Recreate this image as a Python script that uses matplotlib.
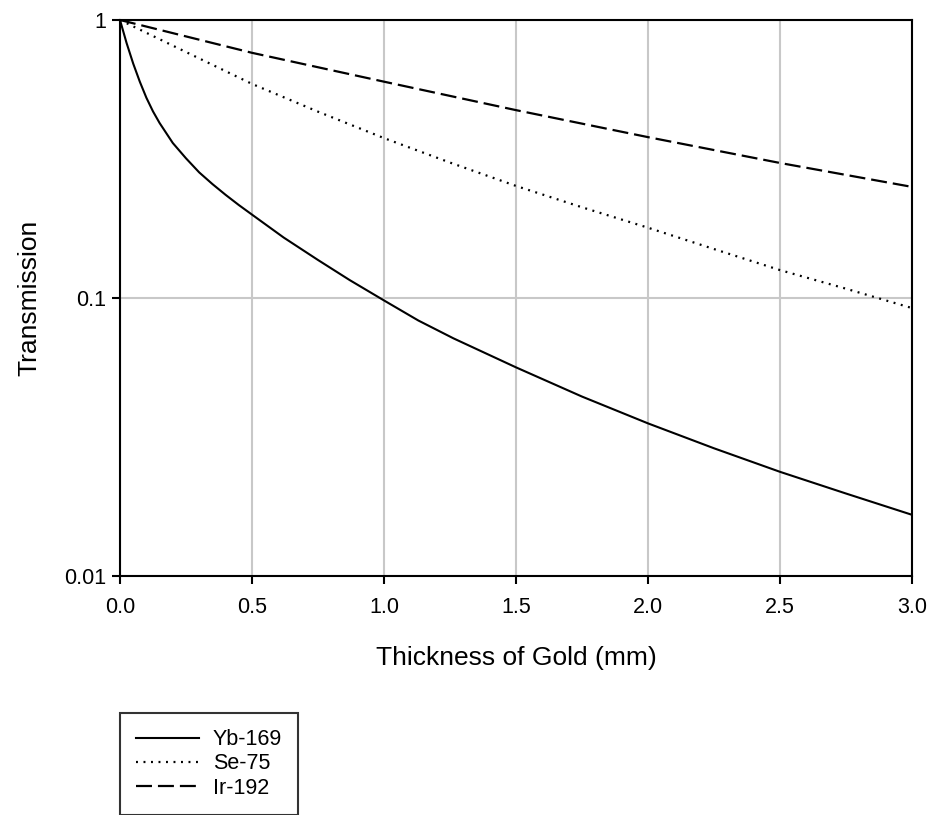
import matplotlib
matplotlib.use('Agg')
import matplotlib.pyplot as plt
from matplotlib.ticker import FixedLocator, FixedFormatter, NullLocator

plt.rcParams['font.family'] = ['Liberation Sans', 'DejaVu Sans']
plt.rcParams['lines.scale_dashes'] = False

# values
yb_x = [0.0, 0.025, 0.05, 0.075, 0.1, 0.125, 0.15, 0.2, 0.25, 0.3, 0.35,
        0.4, 0.45, 0.5, 0.62, 0.75, 0.87, 1.0, 1.13, 1.263, 1.5, 1.75, 2.0,
        2.25, 2.5, 2.75, 3.0]
yb_t = [1.0, 0.826, 0.697, 0.600, 0.525, 0.469, 0.426, 0.361, 0.318, 0.283,
        0.257, 0.235, 0.216, 0.1995, 0.165, 0.137, 0.116, 0.098, 0.083,
        0.0716, 0.0563, 0.0442, 0.0354, 0.0288, 0.0237, 0.0198, 0.0166]

se_x = [0.0, 0.25, 0.5, 0.75, 1.0, 1.25, 1.5, 1.75, 2.0, 2.25, 2.5, 2.75, 3.0]
se_t = [1.0, 0.767, 0.589, 0.468, 0.376, 0.307, 0.253, 0.212, 0.179, 0.150,
        0.126, 0.108, 0.092]

ir_x = [0.0, 0.5, 1.0, 1.5, 2.0, 2.5, 3.0]
ir_t = [1.0, 0.762, 0.600, 0.474, 0.379, 0.306, 0.251]

x_ticks = [0.0, 0.5, 1.0, 1.5, 2.0, 2.5, 3.0]
x_labels = ['0.0', '0.5', '1.0', '1.5', '2.0', '2.5', '3.0']
y_ticks = [0.01, 0.1, 1]
y_labels = ['0.01', '0.1', '1']

fig = plt.figure(figsize=(9.32, 8.15), dpi=100)
ax = fig.add_axes([120/932, 1 - 576/815, 792/932, 556/815])

ax.plot(yb_x, yb_t, color='black', lw=1.5, label='Yb-169', zorder=3,
        solid_joinstyle='round')
ax.plot(se_x, se_t, color='black', lw=1.6, dashes=(1.4, 4.0), label='Se-75', zorder=3)
ax.plot(ir_x, ir_t, color='black', lw=1.6, dashes=(11.5, 4.3), label='Ir-192', zorder=3)

ax.set_yscale('log')
ax.set_xlim(0, 3)
ax.set_ylim(0.01, 1)
ax.xaxis.set_major_locator(FixedLocator(x_ticks))
ax.xaxis.set_major_formatter(FixedFormatter(x_labels))
ax.yaxis.set_major_locator(FixedLocator(y_ticks))
ax.yaxis.set_major_formatter(FixedFormatter(y_labels))
ax.yaxis.set_minor_locator(NullLocator())

ax.grid(True, color='#c8c8c8', lw=1.5, zorder=0)
ax.set_axisbelow(True)
for s in ax.spines.values():
    s.set_linewidth(1.5)
ax.tick_params(direction='out', length=6, width=1.5, labelsize=15.5)
ax.tick_params(axis='x', pad=9)
ax.tick_params(axis='y', pad=4)

ax.set_xlabel('Thickness of Gold (mm)', fontsize=19, labelpad=20)
ax.set_ylabel('Transmission', fontsize=19, labelpad=16)

leg = ax.legend(loc='upper left', bbox_to_anchor=(120/932, 1 - 713/815),
                bbox_transform=fig.transFigure, fontsize=15.5, frameon=True,
                fancybox=False, edgecolor='black', borderpad=0.75,
                handlelength=2.9, handletextpad=0.65, labelspacing=0.15,
                borderaxespad=0)
leg.get_frame().set_linewidth(1.5)

fig.savefig('out.png', dpi=100)
